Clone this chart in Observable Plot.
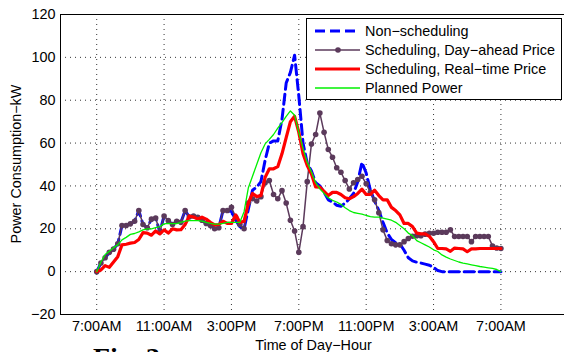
<!DOCTYPE html>
<html><head><meta charset="utf-8">
<script src="https://cdn.jsdelivr.net/npm/d3@7"></script>
<script src="https://cdn.jsdelivr.net/npm/@observablehq/plot@0.6"></script>
<style>
html,body{margin:0;padding:0;background:#fff;overflow:hidden;width:564px;height:352px;}
#wrap{position:relative;width:564px;height:352px;overflow:hidden;}
#fig{position:absolute;left:93px;top:344px;font:bold 28px "Liberation Serif","Times New Roman",serif;line-height:28px;white-space:nowrap;color:#000;}
</style></head><body><div id="wrap"><div id="fig">Fig. 3</div></div>
<script>
// x positions are 15-minute steps counted from 7:00AM
const xTickPos = [0, 16, 32, 48, 64, 80, 96];
const xTickLabels = ["7:00AM", "11:00AM", "3:00PM", "7:00PM", "11:00PM", "3:00AM", "7:00AM"];
const yTicks = [-20, 0, 20, 40, 60, 80, 100, 120];
const seriesNames = ["Non\u2212scheduling", "Scheduling, Day\u2212ahead Price", "Scheduling, Real\u2212time Price", "Planned Power"];
const seriesColors = ["#0000ff", "#5b3a5b", "#ff0000", "#00f000"];

const nonScheduling = [
  0, 4, 6.5, 9, 10.5, 13, 21.5, 21.5, 22.3, 23.5,
  28.5, 22, 20.5, 24.5, 25, 18.5, 26, 23.8, 22, 23.5,
  23, 28.5, 25.5, 26, 25.4, 24, 22.5, 21.5, 20, 20.5,
  28.5, 28.5, 28, 24, 21, 20, 29, 38, 39.4, 42,
  52, 60, 61, 61, 71, 88, 93, 101, 82, 60,
  50.5, 47, 41.5, 40, 37, 33.5, 32.5, 31, 30.5, 32,
  34, 36.5, 42, 51, 46, 38, 33, 28.5, 23, 18,
  15, 13.5, 13, 10, 6.5, 5, 4.4, 4, 3.5, 3,
  2, 0.5, 0, 0, 0, 0, 0, 0, 0, 0,
  0, 0, 0, 0, 0, 0, 0
];
const dayAhead = [
  0, 4, 6.5, 9, 10.5, 13, 21.5, 21.5, 22.3, 23.5,
  28.5, 22, 20.5, 24.5, 25, 18.5, 26, 23.8, 22, 23.5,
  23, 28.5, 25.5, 26, 25.4, 24, 22.5, 21.5, 20, 20.5,
  28.5, 28.5, 30, 25.5, 22, 20, 32, 34, 33, 35,
  41.5, 42.5, 36, 34, 37.8, 32, 24, 19, 9, 21,
  42, 59.6, 64, 74, 65, 57, 53.4, 48.5, 46.4, 42.5,
  38.6, 41.5, 43, 44.5, 41, 37, 33.5, 27.5, 19.5, 14.5,
  13, 12.5, 12.5, 14, 15.5, 16.5, 16.8, 16.8, 17.5, 17.9,
  17.9, 18.4, 18.4, 18.4, 19.5, 16.4, 16.4, 16.4, 16.4, 14,
  16.4, 16.4, 16.4, 16.4, 12, 11, 10.8
];
const realTime = [
  0, 0.8, 2.8, 2, 4.5, 7, 12.5, 12.8, 13.3, 13.6,
  15, 18.2, 18, 17, 19, 17.6, 19.5, 18, 20, 19.5,
  19.6, 22, 26, 25.5, 24.6, 25.4, 24.5, 23, 21.8, 22,
  23.5, 22.5, 22.5, 26.5, 23, 23.5, 32, 36.5, 35, 35.5,
  44, 48, 48, 49, 55, 62.5, 70, 72.5, 65, 55,
  49.5, 45.6, 39.5, 39.4, 37.5, 35.5, 37, 37, 36, 34.5,
  34, 35, 36.5, 38.5, 36, 36, 38, 35.5, 33.5, 33.5,
  30, 28.5, 26.5, 22.5, 22.5, 21, 18, 17.6, 17.6, 16.5,
  14, 10.8, 10.8, 10.6, 9.5, 11, 10.8, 10.6, 9.3, 10.6,
  10.6, 10.8, 10.8, 10.8, 10.8, 10.8, 10.8
];
const planned = [
  0, 4.5, 8, 9.5, 11.2, 12.5, 14.8, 16, 17.4, 17.8,
  18.6, 19.5, 20, 20, 20.5, 21, 22.3, 22.5, 22.4, 22.4,
  23, 23.6, 23.8, 23.8, 23.8, 23.6, 23, 22.5, 22.2, 22.2,
  22.5, 23, 23, 23, 23, 28, 39, 44.5, 50, 55.5,
  59.6, 61.7, 64, 67, 69.5, 72.5, 75, 73, 65, 57.5,
  51, 46.5, 41.5, 38.6, 36.5, 34.5, 33.3, 32.5, 31.4, 29.8,
  28.5, 27.6, 27.2, 26.8, 26.2, 25.7, 25.4, 25.4, 25, 24.5,
  24, 23, 21.5, 20, 18, 16.8, 14.5, 13.5, 12.5, 11.5,
  10.2, 9.4, 7.8, 6.8, 5.9, 5.2, 4.5, 4, 3.6, 3.2,
  2.8, 2.4, 2.1, 1.8, 1.5, 1, 0
];

const rows = arr => arr.map((v, i) => ({i, v}));
const labelMap = new Map(xTickPos.map((p, k) => [p, xTickLabels[k]]));
const FONT = "'Liberation Sans', Arial, Helvetica, sans-serif";
const xDomain = [-8.6, 111.1];
const yDomain = [-20, 120];

const chart = Plot.plot({
  width: 564, height: 352,
  marginLeft: 60, marginRight: 0, marginTop: 14, marginBottom: 38,
  style: {fontFamily: FONT, fontSize: "14.4px", color: "#000", background: "#fff", overflow: "visible"},
  x: {domain: xDomain},
  y: {domain: yDomain},
  marks: [
    Plot.gridX(xTickPos, {stroke: "#000", strokeOpacity: 0.8, strokeDasharray: "1,4"}),
    Plot.gridY(yTicks.slice(1, -1), {stroke: "#000", strokeOpacity: 0.8, strokeDasharray: "1,4"}),
    Plot.axisX(xTickPos, {tickSize: 0, tickPadding: 6, tickFormat: d => labelMap.get(d), label: null, fontSize: 14.4}),
    Plot.axisY(yTicks, {tickSize: 0, tickPadding: 5, label: null, fontSize: 14.4}),
    Plot.line(rows(nonScheduling), {x: "i", y: "v", stroke: seriesColors[0], strokeWidth: 3, strokeDasharray: "10,5"}),
    Plot.line(rows(dayAhead), {x: "i", y: "v", stroke: seriesColors[1], strokeWidth: 1.5}),
    Plot.dot(rows(dayAhead), {x: "i", y: "v", fill: seriesColors[1], r: 2.8, stroke: "none"}),
    Plot.line(rows(realTime), {x: "i", y: "v", stroke: seriesColors[2], strokeWidth: 3.2}),
    Plot.line(rows(planned), {x: "i", y: "v", stroke: seriesColors[3], strokeWidth: 1.3}),
    Plot.ruleY([yDomain[0], yDomain[1]], {stroke: "#000", strokeWidth: 1}),
    Plot.ruleX([xDomain[0]], {stroke: "#000", strokeWidth: 1})
  ]
});
document.getElementById("wrap").prepend(chart);

// axis titles and legend
const svg = d3.select(chart);
svg.append("text").attr("x", 313.5).attr("y", 350).attr("text-anchor", "middle")
  .attr("font-family", FONT).attr("font-size", 14.4).attr("fill", "#000").text("Time of Day\u2212Hour");
svg.append("text").attr("transform", "translate(20.5,164) rotate(-90)").attr("text-anchor", "middle")
  .attr("font-family", FONT).attr("font-size", 14.4).attr("fill", "#000").text("Power Consumption\u2212kW");

const lg = svg.append("g");
lg.append("rect").attr("x", 306.5).attr("y", 18.5).attr("width", 255).attr("height", 81)
  .attr("fill", "#fff").attr("stroke", "#000").attr("stroke-width", 1);
const rowY = [31, 50, 69, 88];
const sw = [3, 1.5, 3.2, 1.3];
seriesNames.forEach((name, k) => {
  const ln = lg.append("line").attr("x1", 315).attr("x2", 360).attr("y1", rowY[k]).attr("y2", rowY[k])
    .attr("stroke", seriesColors[k]).attr("stroke-width", sw[k]);
  if (k === 0) ln.attr("stroke-dasharray", "10,5");
  if (k === 1) lg.append("circle").attr("cx", 338).attr("cy", rowY[k]).attr("r", 2.8).attr("fill", seriesColors[1]);
  lg.append("text").attr("x", 365).attr("y", rowY[k]).attr("dy", "0.36em").attr("text-anchor", "start")
    .attr("font-family", FONT).attr("font-size", 14.4).attr("fill", "#000").text(name);
});
</script></body></html>
